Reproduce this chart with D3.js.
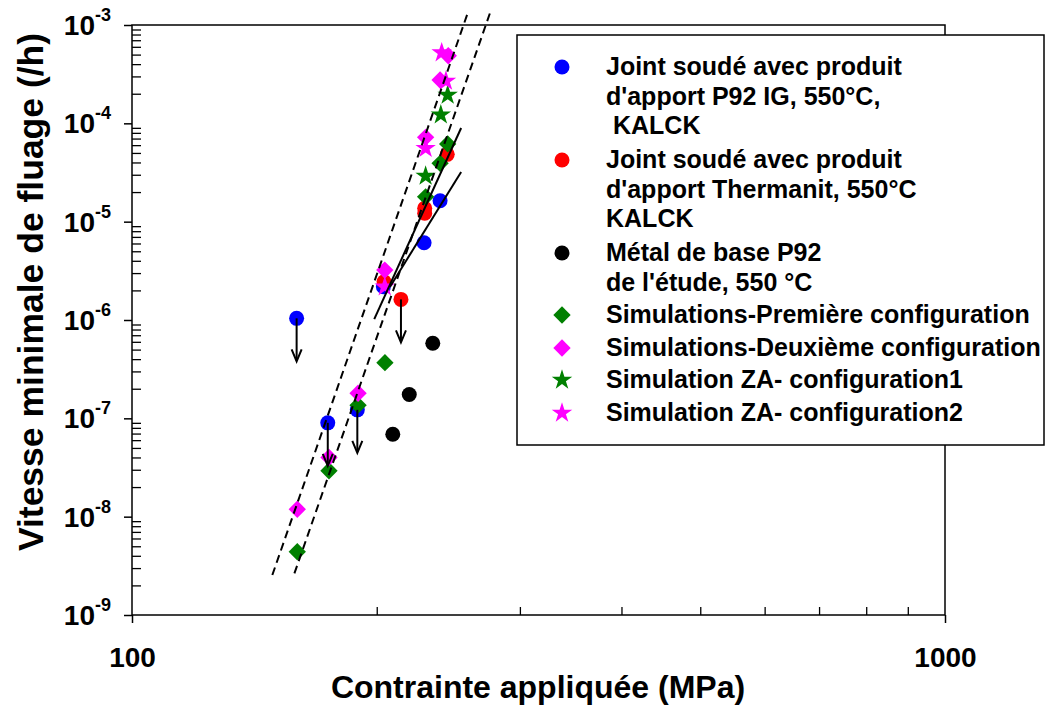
<!DOCTYPE html>
<html>
<head>
<meta charset="utf-8">
<script src="https://cdn.jsdelivr.net/npm/d3@7"></script>
<style>
  body { margin: 0; background: #fff; }
  svg text { font-family: "Liberation Sans", Arial, sans-serif; font-weight: bold; }
</style>
</head>
<body>
<div id="chart"></div>
<script>
let width = 1054, height = 706;

// series: stress (MPa), minimum creep rate (/h), runout flag (arrow down)
const p92X = [159.4, 174.1, 189.3, 203.8, 228.7, 239.3],
      p92Y = [1.04e-6, 9.0e-8, 1.22e-7, 2.18e-6, 6.1e-6, 1.63e-5],
      p92Arrow = [1, 1, 1, 0, 0, 0];
const therX = [214.2, 204.2, 229.1, 229.1, 244.2],
      therY = [1.62e-6, 2.45e-6, 1.22e-5, 1.37e-5, 4.84e-5],
      therArrow = [1, 0, 0, 0, 0];
const baseX = [209.3, 219.3, 234.4],
      baseY = [6.88e-8, 1.75e-7, 5.8e-7];
const sim1X = [159.7, 174.7, 189.7, 204.7, 229.7, 239.3, 244.5],
      sim1Y = [4.4e-9, 2.93e-8, 1.36e-7, 3.68e-7, 1.79e-5, 3.92e-5, 6.17e-5];
const sim2X = [159.7, 174.7, 189.7, 204.6, 229.7, 239.3, 244.9],
      sim2Y = [1.19e-8, 4.0e-8, 1.8e-7, 3.22e-6, 7.2e-5, 2.76e-4, 4.87e-4];
const za1X = [229.7, 239.8, 244.5],
      za1Y = [2.91e-5, 1.22e-4, 1.94e-4];
const za2X = [204.6, 229.7, 240.4, 243.3],
      za2Y = [2.18e-6, 5.57e-5, 5.23e-4, 2.69e-4];

// fitted lines (solid) and scatter band (dashed)
const fitA = {x: [198.6, 254.0], y: [1.02e-6, 8.97e-5]},
      fitB = {x: [207.6, 254.0], y: [2.17e-6, 3.2e-5]};
const bandLow = {x: [148.8, 258.5], y: [2.55e-9, 1.29e-3]},
      bandHigh = {x: [158.4, 275.6], y: [2.65e-9, 1.32e-3]};

const xMajor = [100, 1000],
      xMinor = [200, 300, 400, 500, 600, 700, 800, 900];
const yExp = [-9, -8, -7, -6, -5, -4, -3];

const series = [
  {label: ["Joint soudé avec produit", "d'apport P92 IG, 550°C,", " KALCK"], x: p92X, y: p92Y, arrow: p92Arrow, color: "#0000ff", shape: "circle"},
  {label: ["Joint soudé avec produit", "d'apport Thermanit, 550°C", "KALCK"], x: therX, y: therY, arrow: therArrow, color: "#ff0000", shape: "circle"},
  {label: ["Métal de base P92", "de l'étude, 550 °C"], x: baseX, y: baseY, color: "#000000", shape: "circle"},
  {label: ["Simulations-Première configuration"], x: sim1X, y: sim1Y, color: "#008000", shape: "diamond"},
  {label: ["Simulations-Deuxième configuration"], x: sim2X, y: sim2Y, color: "#ff00ff", shape: "diamond"},
  {label: ["Simulation ZA- configuration1"], x: za1X, y: za1Y, color: "#008000", shape: "star"},
  {label: ["Simulation ZA- configuration2"], x: za2X, y: za2Y, color: "#ff00ff", shape: "star"}
];

let pLeft = 132, pTop = 25, pRight = 945, pBottom = 615;

let svg = d3.select('#chart').append('svg')
  .attr('width', width).attr('height', height);

let x = d3.scaleLog().domain([100, 1000]).range([pLeft, pRight]);
let y = d3.scaleLog().domain([1e-9, 1e-3]).range([pBottom, pTop]);

function symbolPath(shape) {
  if (shape == "circle") return d3.symbol(d3.symbolCircle, Math.PI * 7.5 * 7.5)();
  if (shape == "diamond") return d3.symbol(d3.symbolSquare, 150)();
  return d3.symbol(d3.symbolStar, 130)();
}

// frame
svg.append('rect').attr('x', pLeft).attr('y', pTop)
  .attr('width', pRight - pLeft).attr('height', pBottom - pTop)
  .attr('fill', 'none').attr('stroke', '#000').attr('stroke-width', 1.5);

// x axis: major ticks outside, minor inside
let xAxis = svg.append('g').attr('transform', `translate(0,${pBottom})`)
  .call(d3.axisBottom(x).tickValues(xMajor).tickSize(8).tickSizeOuter(0).tickFormat(d3.format('d')));
xAxis.select('.domain').remove();
xAxis.selectAll('text').attr('font-size', 28).attr('dy', '1.45em').attr('fill', '#000');
xAxis.selectAll('line').attr('stroke-width', 1.5);
let xMin = svg.append('g').attr('transform', `translate(0,${pBottom})`)
  .call(d3.axisTop(x).tickValues(xMinor).tickSize(8).tickFormat(''));
xMin.select('.domain').remove();
xMin.selectAll('line').attr('stroke-width', 1.3);

// y axis
let yMajorVals = yExp.map(e => Math.pow(10, e));
let yMinorVals = [];
yExp.slice(0, -1).forEach(function(e){
  for (let k = 2; k <= 9; k++) yMinorVals.push(k * Math.pow(10, e));
});
let yAxis = svg.append('g').attr('transform', `translate(${pLeft},0)`)
  .call(d3.axisLeft(y).tickValues(yMajorVals).tickSize(8).tickSizeOuter(0).tickFormat(''));
yAxis.select('.domain').remove();
yAxis.selectAll('line').attr('stroke-width', 1.5);
let yMin = svg.append('g').attr('transform', `translate(${pLeft},0)`)
  .call(d3.axisRight(y).tickValues(yMinorVals).tickSize(9).tickFormat(''));
yMin.select('.domain').remove();
yMin.selectAll('line').attr('stroke-width', 1.3);

let yLab = svg.append('g').selectAll('text').data(yExp).enter().append('text')
  .attr('x', 111).attr('y', d => y(Math.pow(10, d)) + 10)
  .attr('text-anchor', 'end').attr('fill', '#000');
yLab.append('tspan').attr('font-size', 28).text('10');
yLab.append('tspan').attr('font-size', 18).attr('dy', -14).text(d => d);

// markers
series.forEach(function(s){
  let g = svg.append('g');
  g.selectAll('path').data(s.x.map((v, i) => [v, s.y[i]])).enter().append('path')
    .attr('d', symbolPath(s.shape))
    .attr('transform', d => `translate(${x(d[0])},${y(d[1])})` + (s.shape == "diamond" ? " rotate(45)" : ""))
    .attr('fill', s.color);
});

// runout arrows
series.forEach(function(s){
  if (!s.arrow) return;
  s.x.forEach(function(v, i){
    if (!s.arrow[i]) return;
    let cx = x(v), cy = y(s.y[i]);
    svg.append('line').attr('x1', cx).attr('x2', cx).attr('y1', cy).attr('y2', cy + 42)
      .attr('stroke', '#000').attr('stroke-width', 2);
    svg.append('path').attr('d', `M${cx - 5},${cy + 31}L${cx},${cy + 43}L${cx + 5},${cy + 31}`)
      .attr('fill', 'none').attr('stroke', '#000').attr('stroke-width', 2);
  });
});

// lines
let line = d3.line().x(d => x(d[0])).y(d => y(d[1]));
[fitA, fitB].forEach(function(f){
  svg.append('path').attr('d', line(f.x.map((v, i) => [v, f.y[i]])))
    .attr('fill', 'none').attr('stroke', '#000').attr('stroke-width', 2);
});
[bandLow, bandHigh].forEach(function(f){
  svg.append('path').attr('d', line(f.x.map((v, i) => [v, f.y[i]])))
    .attr('fill', 'none').attr('stroke', '#000').attr('stroke-width', 2)
    .attr('stroke-dasharray', '8,5');
});

// axis titles
svg.append('text').attr('x', 538).attr('y', 698).attr('text-anchor', 'middle')
  .attr('font-size', 32).attr('fill', '#000').text('Contrainte appliquée (MPa)');
svg.append('text').attr('transform', 'translate(43,292) rotate(-90)').attr('text-anchor', 'middle')
  .attr('font-size', 35.5).attr('fill', '#000').text('Vitesse minimale de fluage (/h)');

// legend
let lg = svg.append('g');
lg.append('rect').attr('x', 517).attr('y', 35).attr('width', 527).attr('height', 410)
  .attr('fill', '#fff').attr('stroke', '#000').attr('stroke-width', 1.5);
const rowBase = [75, 168, 261, 323, 356, 388, 421];
series.forEach(function(s, i){
  lg.append('path').attr('d', symbolPath(s.shape))
    .attr('transform', `translate(562,${rowBase[i] - 8})` + (s.shape == "diamond" ? " rotate(45)" : ""))
    .attr('fill', s.color);
  s.label.forEach(function(t, j){
    lg.append('text').attr('x', 606).attr('y', rowBase[i] + j * 29.5)
      .attr('font-size', 25).attr('fill', '#000')
      .attr('xml:space', 'preserve').style('white-space', 'pre').text(t);
  });
});
</script>
</body>
</html>
